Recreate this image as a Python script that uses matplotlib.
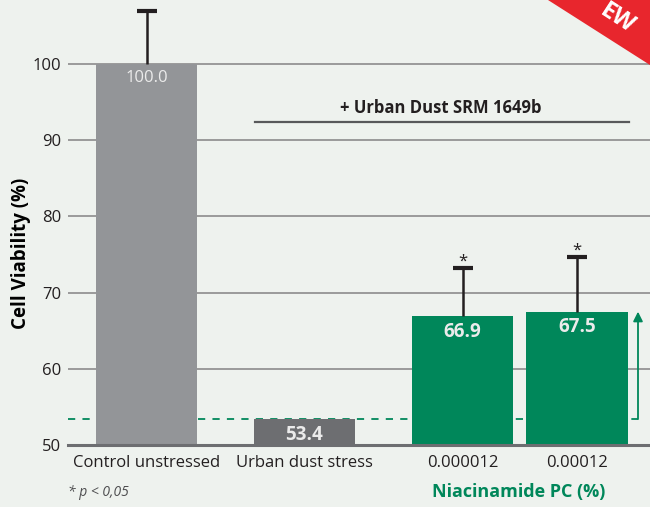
import matplotlib.pyplot as plt
import matplotlib.patches as mpatches

# Datos
categories = ['Control unstressed', 'Urban dust stress', '0.000012', '0.00012']
viability = [100.0, 53.4, 66.9, 67.5]
errors = [7.0, 0.0, 6.3, 7.2]
significant = [False, False, True, True]
value_labels = ['100.0', '53.4', '66.9', '67.5']

# Posiciones y estilos
positions = [0.0, 1.0, 2.0, 2.725]
bar_colors = ['#939598', '#6d6e71', '#00875a', '#00875a']
green = '#00875a'
bg = '#eef2ee'

plt.rcParams['font.family'] = ['Open Sans', 'DejaVu Sans']

fig = plt.figure(figsize=(6.5, 5.07), dpi=100)
fig.patch.set_facecolor(bg)
ax = fig.add_axes([68 / 650, 1 - 445 / 507, 1 - 68 / 650, 445 / 507])
ax.set_facecolor(bg)

ax.set_ylim(50, 50 + 445 / 7.62)
ax.set_xlim(-78.5 / 158, 503.5 / 158)

# Líneas de cuadrícula
for yv in [60, 70, 80, 90, 100]:
    ax.axhline(yv, color='#9a9a9a', linewidth=1.4, zorder=0)

ax.bar(positions, [v - 50 for v in viability], bottom=50, width=0.64,
       color=bar_colors, zorder=2)

# Barras de error (solo hacia arriba)
for x, v, e in zip(positions, viability, errors):
    if e > 0:
        ax.plot([x, x], [v, v + e], color='#231f20', linewidth=1.8, zorder=3,
                solid_capstyle='butt')
        ax.plot(x, v + e, marker='_', markersize=14, markeredgewidth=3,
                color='#231f20', zorder=3)

# Etiquetas de valor dentro de las barras
for i, (x, v, lab) in enumerate(zip(positions, viability, value_labels)):
    ax.annotate(lab, (x, v), xytext=(0, -4), textcoords='offset points',
                ha='center', va='top', color='#ebebeb',
                fontsize=13.5 if i else 12,
                fontweight='normal' if i == 0 else 'bold', zorder=4)

# Asteriscos de significancia
for x, v, e, s in zip(positions, viability, errors, significant):
    if s:
        ax.annotate('*', (x, v + e), xytext=(0, -1), textcoords='offset points',
                    ha='center', va='bottom', fontsize=12, color='#231f20')

# Línea base de estrés y flecha
x_arrow = 491.5 / 158
ax.plot([ax.get_xlim()[0], x_arrow], [viability[1], viability[1]],
        color=green, linestyle=(0, (4, 4)), linewidth=1.3, zorder=1)
ax.annotate('', xy=(x_arrow, viability[3]), xytext=(x_arrow, viability[1]),
            arrowprops=dict(arrowstyle='-|>', color=green, lw=1.3,
                            mutation_scale=14, shrinkA=0, shrinkB=0))

# Corchete "+ Urban Dust SRM 1649b"
ax.plot([108.5 / 158, 482.5 / 158], [92.4, 92.4], color='#58595b', linewidth=1.6)
ax.text(294.5 / 158, 93.0, '+ Urban Dust SRM 1649b', ha='center', va='bottom',
        fontsize=12, fontweight='bold', color='#231f20')

# Ejes
for s in ['top', 'right', 'left']:
    ax.spines[s].set_visible(False)
ax.spines['bottom'].set_color('#6d6e71')
ax.spines['bottom'].set_linewidth(2.2)
ax.set_yticks([50, 60, 70, 80, 90, 100])
ax.set_xticks(positions)
ax.set_xticklabels(categories, fontsize=12, color='#231f20')
ax.tick_params(axis='x', length=0, pad=7)
ax.tick_params(axis='y', length=0, pad=5, labelsize=12, labelcolor='#231f20')
ax.set_ylabel('Cell Viability (%)', fontsize=13.5, fontweight='bold',
              color='#000000')
ax.yaxis.set_label_coords(-0.063, 0.43)

fig.text(519 / 650, 1 - 492 / 507, 'Niacinamide PC (%)', ha='center', va='center',
         fontsize=13, fontweight='bold', color=green)
fig.text(68 / 650, 1 - 493 / 507, '* p < 0,05', ha='left', va='center',
         fontsize=10, style='italic', color='#4d4d4f')

# Cinta "NEW" en la esquina
ribbon = mpatches.Polygon([(548 / 650, 1.0), (1.0, 1.0), (1.0, 1 - 65 / 507)],
                          closed=True, transform=fig.transFigure,
                          facecolor='#e8262d', edgecolor='none', zorder=10)
fig.patches.append(ribbon)
fig.text(617 / 650, 1 - 19 / 507, 'EW', rotation=-33, ha='center', va='center',
         fontsize=17, fontweight='bold', color='white', zorder=11)

fig.savefig('out.png', dpi=100, facecolor=bg)
